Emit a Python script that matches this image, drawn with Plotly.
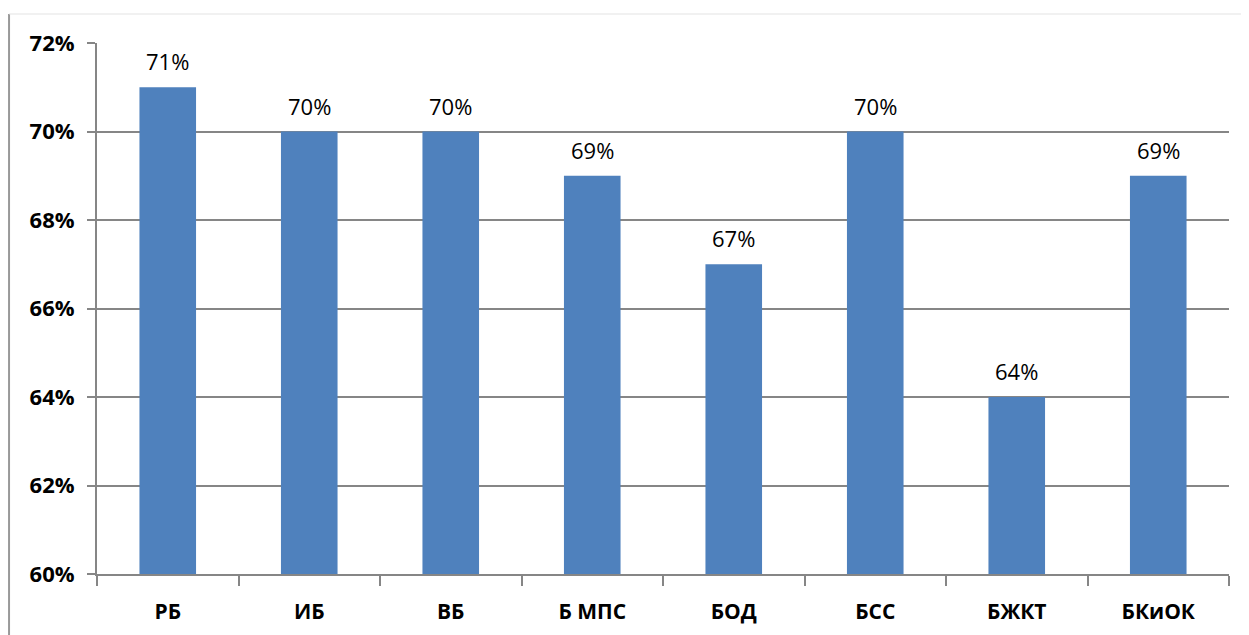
import plotly.graph_objects as go

# categories and values (share of total, %)
categories = ["РБ", "ИБ", "ВБ", "Б МПС", "БОД", "БСС", "БЖКТ", "БКиОК"]
values = [71, 70, 70, 69, 67, 70, 64, 69]
y_ticks = [60, 62, 64, 66, 68, 70, 72]
y_tick_labels = [f"{v}%" for v in y_ticks]

BAR_COLOR = "#4F81BD"
GRID_COLOR = "#868686"
FONT = "Open Sans"

fig = go.Figure()

fig.add_trace(go.Bar(
    x=categories,
    y=values,
    marker=dict(color=BAR_COLOR, line=dict(width=0)),
    hoverinfo="x+y",
))

# value labels above bars
for cat, val in zip(categories, values):
    fig.add_annotation(
        x=cat, y=val,
        text=f"{val}%",
        showarrow=False,
        yanchor="bottom",
        yshift=9,
        font=dict(family=FONT, size=22, color="#000000"),
    )

# outer chart frame (left + top edges visible)
fig.add_shape(type="line", xref="paper", yref="paper",
              x0=-0.0777, x1=-0.0777, y0=-0.2, y1=1.0546,
              line=dict(color="#999999", width=2))
fig.add_shape(type="line", xref="paper", yref="paper",
              x0=-0.0777, x1=1.05, y0=1.0546, y1=1.0546,
              line=dict(color="#e3e3e3", width=1))

# page body adds an 8px offset, margins account for it
fig.update_layout(
    width=1249,
    height=635,
    margin=dict(l=89, r=28, t=35, b=69),
    paper_bgcolor="white",
    plot_bgcolor="white",
    bargap=0.6,
    showlegend=False,
    font=dict(family=FONT, color="#000000"),
)

fig.update_xaxes(
    automargin=False,
    showline=True, linecolor=GRID_COLOR, linewidth=2,
    ticks="outside", ticklen=10, tickwidth=2, tickcolor=GRID_COLOR,
    tickson="boundaries",
    showgrid=False,
    tickfont=dict(family=FONT, size=21, weight="bold"),
    ticklabelstandoff=18,
)

fig.update_yaxes(
    automargin=False,
    range=[60, 72],
    tickvals=y_ticks,
    ticktext=y_tick_labels,
    showline=True, linecolor=GRID_COLOR, linewidth=2,
    ticks="outside", ticklen=8, tickwidth=2, tickcolor=GRID_COLOR,
    showgrid=True, gridcolor=GRID_COLOR, gridwidth=2,
    zeroline=False,
    tickfont=dict(family=FONT, size=22, weight="bold"),
    ticklabelstandoff=8,
)

fig.write_html("out.html")
